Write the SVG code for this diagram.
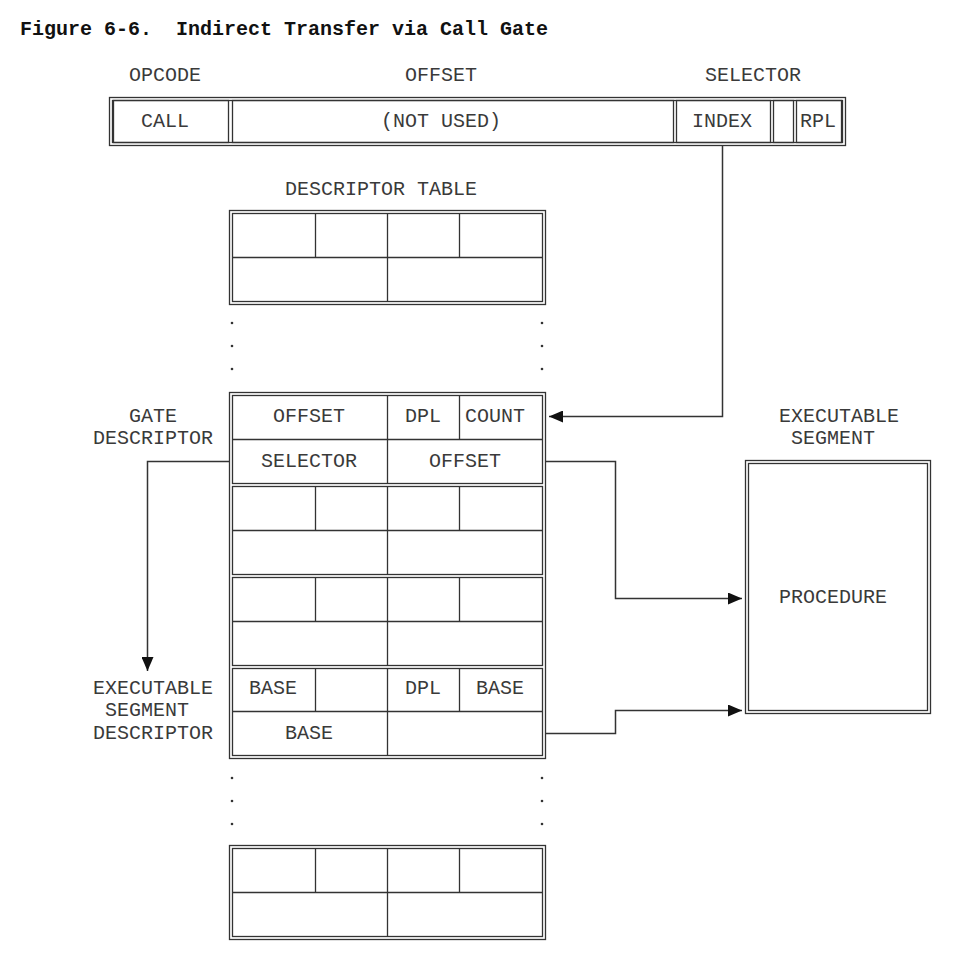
<svg xmlns="http://www.w3.org/2000/svg" width="970" height="977" viewBox="0 0 970 977">
<style>
.t{font-family:"Liberation Mono","Courier New",monospace;font-size:20px;fill:#3a3a3a}
.c{text-anchor:middle}
.title{font-family:"Liberation Mono","Courier New",monospace;font-size:20px;font-weight:bold;fill:#111}
.b{fill:none;stroke:#333;stroke-width:1.3}
.dbl{fill:none;stroke:#333;stroke-width:1.3}
.ln{fill:none;stroke:#333;stroke-width:1.5}
.dot{fill:#333}
</style>
<defs>
<marker id="ah" markerWidth="14" markerHeight="12" refX="14" refY="6" orient="auto" markerUnits="userSpaceOnUse">
<path d="M0,0 L14,6 L0,12 Z" fill="#111"/>
</marker>
</defs>
<rect width="970" height="977" fill="#fff"/>
<text class="title" x="20" y="35" xml:space="preserve">Figure 6-6.  Indirect Transfer via Call Gate</text>

<g id="field-labels">
<text class="t c" x="165" y="81">OPCODE</text>
<text class="t c" x="441" y="81">OFFSET</text>
<text class="t c" x="753" y="81">SELECTOR</text>
</g>

<g id="instruction">
<rect class="dbl" x="109.5" y="97.5" width="736" height="48"/>
<rect class="dbl" x="112.5" y="100.5" width="730" height="42"/>
<rect class="b" x="113.5" y="100.5" width="115" height="42"/>
<rect class="b" x="232.5" y="100.5" width="441" height="42"/>
<rect class="b" x="676.5" y="100.5" width="94" height="42"/>
<rect class="b" x="773.5" y="100.5" width="20" height="42"/>
<rect class="b" x="796.5" y="100.5" width="45" height="42"/>
<text class="t c" x="165" y="127">CALL</text>
<text class="t c" x="441" y="127">(NOT USED)</text>
<text class="t c" x="722" y="127">INDEX</text>
<text class="t c" x="818" y="127">RPL</text>
</g>

<g id="descriptor-table-label">
<text class="t c" x="381" y="195">DESCRIPTOR TABLE</text>
</g>

<g id="table-top">
<rect class="dbl" x="229.5" y="210.5" width="316" height="94"/>
<rect class="dbl" x="232.5" y="213.5" width="310" height="88"/>
<line class="b" x1="232" y1="257.5" x2="542" y2="257.5"/>
<line class="b" x1="387.5" y1="213" x2="387.5" y2="301"/>
<line class="b" x1="315.5" y1="213" x2="315.5" y2="257"/>
<line class="b" x1="459.5" y1="213" x2="459.5" y2="257"/>
</g>

<g id="dots-top">
<circle class="dot" cx="232" cy="323" r="1.3"/><circle class="dot" cx="232" cy="346" r="1.3"/><circle class="dot" cx="232" cy="369" r="1.3"/>
<circle class="dot" cx="542" cy="323" r="1.3"/><circle class="dot" cx="542" cy="346" r="1.3"/><circle class="dot" cx="542" cy="369" r="1.3"/>
</g>

<g id="table-main">
<rect class="dbl" x="229.5" y="392.5" width="316" height="366"/>
<rect class="dbl" x="232.5" y="395.5" width="310" height="88"/>
<rect class="dbl" x="232.5" y="486.5" width="310" height="88"/>
<rect class="dbl" x="232.5" y="577.5" width="310" height="88"/>
<rect class="dbl" x="232.5" y="668.5" width="310" height="87"/>
</g>

<g id="gate-descriptor">
<line class="b" x1="232" y1="439.5" x2="542" y2="439.5"/>
<line class="b" x1="387.5" y1="395" x2="387.5" y2="483"/>
<line class="b" x1="459.5" y1="395" x2="459.5" y2="439"/>
<text class="t c" x="309" y="422">OFFSET</text>
<text class="t c" x="423" y="422">DPL</text>
<text class="t c" x="495" y="422">COUNT</text>
<text class="t c" x="309" y="467">SELECTOR</text>
<text class="t c" x="465" y="467">OFFSET</text>
</g>

<g id="descriptor-2">
<line class="b" x1="232" y1="530.5" x2="542" y2="530.5"/>
<line class="b" x1="387.5" y1="486" x2="387.5" y2="574"/>
<line class="b" x1="315.5" y1="486" x2="315.5" y2="530"/>
<line class="b" x1="459.5" y1="486" x2="459.5" y2="530"/>
</g>

<g id="descriptor-3">
<line class="b" x1="232" y1="621.5" x2="542" y2="621.5"/>
<line class="b" x1="387.5" y1="577" x2="387.5" y2="665"/>
<line class="b" x1="315.5" y1="577" x2="315.5" y2="621"/>
<line class="b" x1="459.5" y1="577" x2="459.5" y2="621"/>
</g>

<g id="exec-segment-descriptor">
<line class="b" x1="232" y1="711.5" x2="542" y2="711.5"/>
<line class="b" x1="387.5" y1="668" x2="387.5" y2="755"/>
<line class="b" x1="315.5" y1="668" x2="315.5" y2="711"/>
<line class="b" x1="459.5" y1="668" x2="459.5" y2="711"/>
<text class="t c" x="273" y="694">BASE</text>
<text class="t c" x="423" y="694">DPL</text>
<text class="t c" x="500" y="694">BASE</text>
<text class="t c" x="309" y="739">BASE</text>
</g>

<g id="dots-bottom">
<circle class="dot" cx="232" cy="778" r="1.3"/><circle class="dot" cx="232" cy="801" r="1.3"/><circle class="dot" cx="232" cy="824" r="1.3"/>
<circle class="dot" cx="542" cy="778" r="1.3"/><circle class="dot" cx="542" cy="801" r="1.3"/><circle class="dot" cx="542" cy="824" r="1.3"/>
</g>

<g id="table-bottom">
<rect class="dbl" x="229.5" y="845.5" width="316" height="94"/>
<rect class="dbl" x="232.5" y="848.5" width="310" height="88"/>
<line class="b" x1="232" y1="892.5" x2="542" y2="892.5"/>
<line class="b" x1="387.5" y1="848" x2="387.5" y2="936"/>
<line class="b" x1="315.5" y1="848" x2="315.5" y2="892"/>
<line class="b" x1="459.5" y1="848" x2="459.5" y2="892"/>
</g>

<g id="left-labels">
<text class="t c" x="153" y="422">GATE</text>
<text class="t" x="93" y="444">DESCRIPTOR</text>
<text class="t" x="93" y="694">EXECUTABLE</text>
<text class="t" x="105" y="716">SEGMENT</text>
<text class="t" x="93" y="739">DESCRIPTOR</text>
</g>

<g id="executable-segment">
<text class="t" x="779" y="422">EXECUTABLE</text>
<text class="t" x="791" y="444">SEGMENT</text>
<rect class="dbl" x="745.5" y="460.5" width="185" height="253"/>
<rect class="dbl" x="748.5" y="463.5" width="179" height="247"/>
<text class="t" x="779" y="603">PROCEDURE</text>
</g>

<g id="connectors">
<path class="ln" d="M722.5,145 V416.5 H549" marker-end="url(#ah)"/>
<path class="ln" d="M545,461.5 H615.5 V598.5 H742" marker-end="url(#ah)"/>
<path class="ln" d="M229,461.5 H147.5 V671" marker-end="url(#ah)"/>
<path class="ln" d="M545,733.5 H615.5 V710.5 H742" marker-end="url(#ah)"/>
</g>
</svg>
